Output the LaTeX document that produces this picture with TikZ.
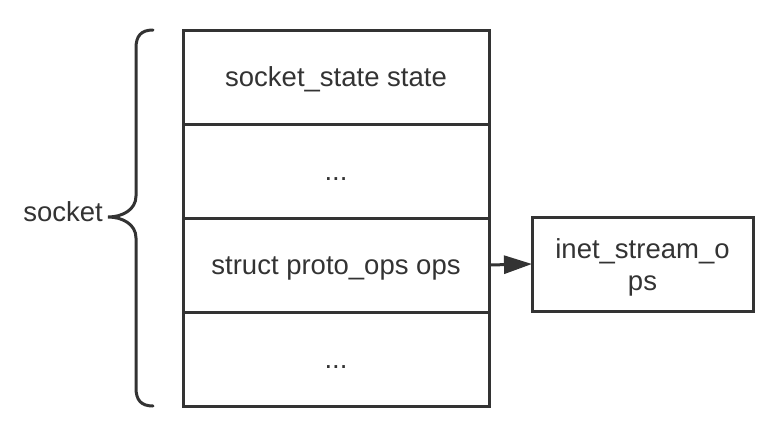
\documentclass[tikz,border=0pt]{standalone}
\usepackage{fontspec}
\setmainfont{Liberation Sans}
\usetikzlibrary{arrows.meta,positioning}
\definecolor{ink}{HTML}{333333}

\begin{document}
\begin{tikzpicture}[x=1pt,y=-1pt,
  field/.style={rectangle,draw=ink,line width=3pt,minimum width=306pt,minimum height=94pt,inner sep=0pt,outer sep=0pt,text=ink},
  row/.style={field,text height=25pt,text depth=6pt},
  label/.style={text=ink,inner sep=0pt}]
\useasboundingbox (0,0) rectangle (782,434);
\fontsize{27.5}{32}\selectfont

\node[row] at (336,77)  (state) {socket\_state state};
\node[row] at (336,171) (dots1) {...};
\node[row] at (336,265) (ops)   {struct proto\_ops ops};
\node[row] at (336,359) (dots2) {...};

\node[field,minimum width=221pt] at (642.5,264) (inet) {\raisebox{-4pt}[\height][\depth]{\begin{tabular}{@{}c@{}}inet\_stream\_o\\ps\end{tabular}}};

\node[label,anchor=east] at (103,212) (socket) {socket};

% brace
\draw[ink,line width=3pt,line cap=round] (153,30) .. controls (141,30) and (136,36) .. (136,48)
  -- (136,196) .. controls (136,210) and (122,217) .. (108,217)
  .. controls (122,217) and (136,224) .. (136,238)
  -- (136,388) .. controls (136,400) and (141,406) .. (153,406);

\draw[ink,line width=3pt,-{Triangle[length=28pt,width=18pt]}] (ops.east) -- (inet.west);
\end{tikzpicture}
\end{document}
